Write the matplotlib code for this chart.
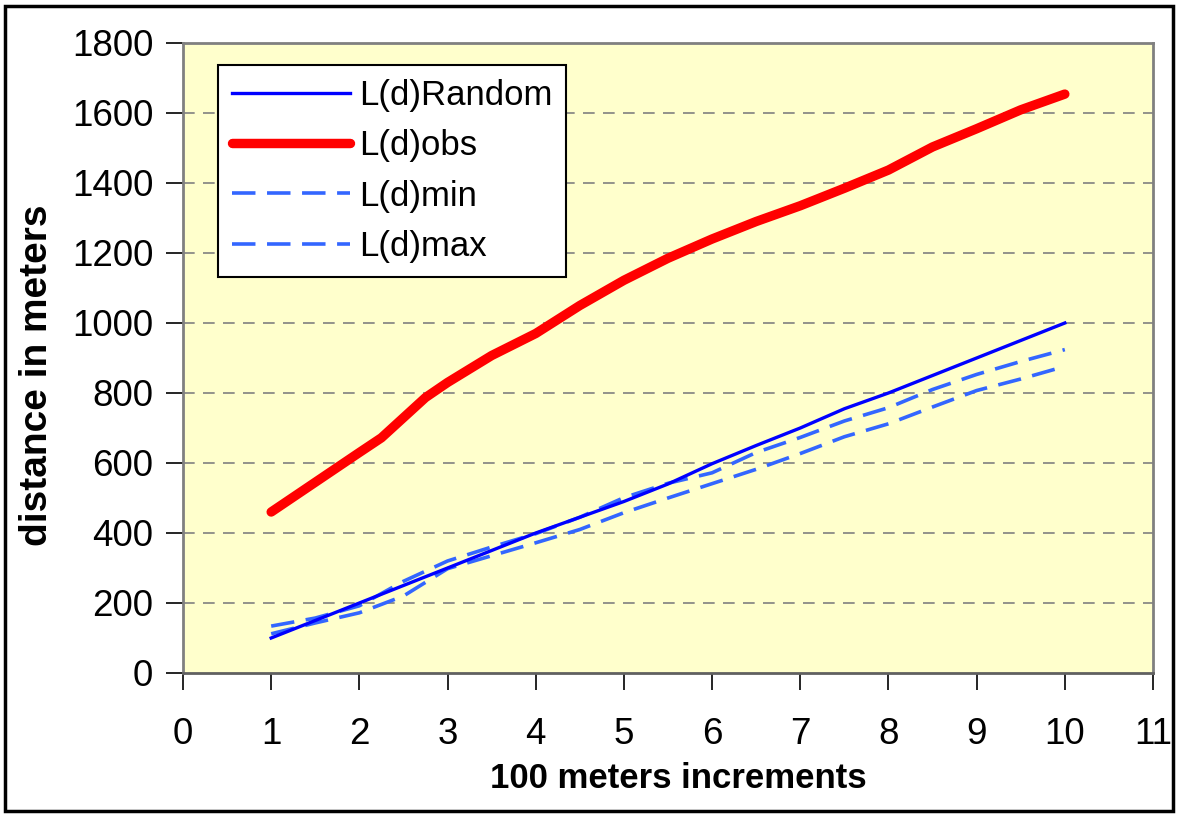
import matplotlib
matplotlib.use("Agg")
import matplotlib.pyplot as plt
from matplotlib.patches import Rectangle

plt.rcParams['font.family'] = ['Liberation Sans', 'DejaVu Sans']

# ---- data ----
x_half = [1, 1.5, 2, 2.5, 3, 3.5, 4, 4.5, 5, 5.5, 6, 6.5, 7, 7.5, 8, 8.5, 9, 9.5, 10]
ld_random = [100, 150, 200, 250, 300, 350, 400, 445, 490, 540, 598, 650, 700, 755, 800, 850, 900, 950, 1000]
obs_x = [1, 1.5, 2, 2.25, 2.75, 3, 3.5, 4, 4.5, 5, 5.5, 6, 6.5, 7, 7.5, 8, 8.5, 9, 9.5, 10]
ld_obs = [460, 545, 630, 672, 787, 830, 907, 970, 1050, 1122, 1185, 1240, 1290, 1335, 1385, 1437, 1503, 1555, 1609, 1654]
ld_min = [112, 143, 172, 220, 298, 335, 372, 410, 458, 500, 541, 582, 627, 675, 712, 760, 807, 840, 876]
ld_max = [134, 157, 192, 262, 320, 360, 398, 445, 501, 542, 572, 630, 673, 720, 758, 810, 853, 890, 924]

x_ticks = list(range(0, 12))
y_ticks = list(range(0, 2000, 200))

fig = plt.figure(figsize=(11.78, 8.16), dpi=100)
fig.patch.set_facecolor('white')
# outer border
fig.patches.append(Rectangle((5/1178, 5/816), 1 - 10/1178, 1 - 11/816, transform=fig.transFigure,
                             fill=False, edgecolor='black', linewidth=2.5, zorder=10))

ax = fig.add_axes([183/1178, 1 - 673/816, 970/1178, 630/816])
ax.set_facecolor('#FFFFCC')
ax.set_xlim(0, 11)
ax.set_ylim(0, 1800)
ax.set_xticks(x_ticks)
ax.set_yticks(y_ticks)
ax.tick_params(axis='both', direction='out', length=12, width=1.2, color='black',
               labelsize=26.5)
ax.tick_params(axis='y', pad=9.5)
ax.tick_params(axis='x', pad=20)
for s in ['top', 'right', 'left']:
    ax.spines[s].set_color('#808080')
    ax.spines[s].set_linewidth(2)
ax.spines['bottom'].set_color('#606060')
ax.spines['bottom'].set_linewidth(2)

for yv in y_ticks[1:-1]:
    ax.axhline(yv, color='#808080', linewidth=1.2, dashes=(7, 5), zorder=1)

ax.plot(x_half, ld_random, color='#0000FF', linewidth=2.4, label='L(d)Random', zorder=3)
ax.plot(obs_x, ld_obs, color='#FF0000', linewidth=6.8, solid_capstyle='round',
        solid_joinstyle='round', label='L(d)obs', zorder=4)
ax.plot(x_half, ld_min, color='#3366FF', linewidth=2.6, dashes=(6.5, 3.2), label='L(d)min', zorder=2)
ax.plot(x_half, ld_max, color='#3366FF', linewidth=2.6, dashes=(6.5, 3.2), label='L(d)max', zorder=2)

leg = ax.legend(loc='upper left', bbox_to_anchor=(35/970, (673 - 65)/630), borderaxespad=0,
                fontsize=25, handlelength=3.4, handletextpad=0.25, labelspacing=0.5,
                borderpad=0.4, fancybox=False, framealpha=1, edgecolor='black')
leg.get_frame().set_linewidth(1.5)

ax.set_xlabel('100 meters increments', fontsize=25, fontweight='bold')
ax.set_ylabel('distance in meters', fontsize=28, fontweight='bold')
ax.xaxis.set_label_coords((678 - 183) / 970, (673 - 778) / 630)
ax.yaxis.set_label_coords((37 - 183) / 970, (673 - 375) / 630)
ax.xaxis.label.set_va('center')
ax.yaxis.label.set_va('center')

fig.savefig('out.png', dpi=100)
